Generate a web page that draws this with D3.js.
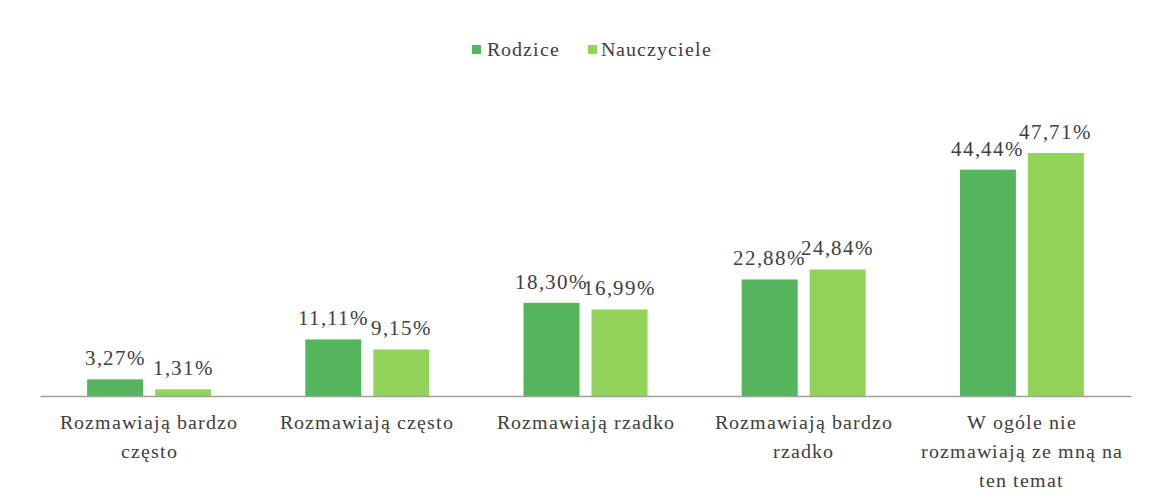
<!DOCTYPE html>
<html><head><meta charset="utf-8">
<script src="https://cdn.jsdelivr.net/npm/d3@7"></script>
<style>
@font-face{font-family:"RefSerif";src:local("Liberation Serif"),local("LiberationSerif"),local("LiberationSerif-Regular"),local("DejaVu Serif"),local("DejaVuSerif"),local("Tinos"),local("Times New Roman");}
body{margin:0;background:#fff}svg{display:block}</style>
</head><body>
<svg id="c" width="1154" height="496"></svg>
<script>
const categories = [
  ["Rozmawiają bardzo", "często"],
  ["Rozmawiają często"],
  ["Rozmawiają rzadko"],
  ["Rozmawiają bardzo", "rzadko"],
  ["W ogóle nie", "rozmawiają ze mną na", "ten temat"]
];
const seriesNames = ["Rodzice", "Nauczyciele"];
const rodzice = [3.27, 11.11, 18.30, 22.88, 44.44];
const nauczyciele = [1.31, 9.15, 16.99, 24.84, 47.71];
const colors = ["#55b55c", "#92d35a"];

const font = '"RefSerif", "Liberation Serif", serif';
const svg = d3.select("#c");
const x0 = d3.scaleBand().domain(d3.range(categories.length)).range([40, 1131]).paddingInner(0).paddingOuter(0);
const x1 = d3.scaleBand().domain(seriesNames).range([x0.bandwidth()/2 - 62, x0.bandwidth()/2 + 62]).paddingInner(12/68).paddingOuter(0);
const y = d3.scaleLinear().domain([0, 47.71]).range([396, 153]);
const fmt = v => v.toFixed(2).replace(".", ",") + "%";

const data = [rodzice, nauczyciele];
const g = svg.append("g");
categories.forEach((c, i) => {
  seriesNames.forEach((s, j) => {
    const v = data[j][i];
    const bx = x0(i) + x1(s);
    g.append("rect").attr("x", bx).attr("y", y(v)).attr("width", x1.bandwidth())
      .attr("height", y(0) - y(v)).attr("fill", colors[j]);
    g.append("text").attr("x", bx + x1.bandwidth()/2).attr("y", y(v) - 14)
      .attr("text-anchor", "middle").attr("font-family", font).attr("font-size", 21).attr("letter-spacing", 1).attr("fill", "#404040")
      .text(fmt(v));
  });
});

const axis = svg.append("g").attr("transform", "translate(0,396)")
  .call(d3.axisBottom(x0).tickSize(0).tickFormat(""));
axis.select(".domain").attr("stroke", "#a0a0a0").attr("stroke-width", 1.5);
categories.forEach((lines, i) => {
  const t = svg.append("text").attr("text-anchor", "middle").attr("font-family", font)
    .attr("font-size", 20).attr("letter-spacing", 1).attr("fill", "#404040");
  lines.forEach((l, k) => {
    t.append("tspan").attr("x", x0(i) + x0.bandwidth()/2).attr("y", 429 + k*29).text(l);
  });
});

const legend = [{x: 472, tx: 487}, {x: 588, tx: 601}];
seriesNames.forEach((s, j) => {
  svg.append("rect").attr("x", legend[j].x).attr("y", 45).attr("width", 9).attr("height", 9).attr("fill", colors[j]);
  svg.append("text").attr("x", legend[j].tx).attr("y", 56).attr("font-family", font)
    .attr("font-size", 20).attr("letter-spacing", 1).attr("fill", "#404040").text(s);
});
</script>
</body></html>
